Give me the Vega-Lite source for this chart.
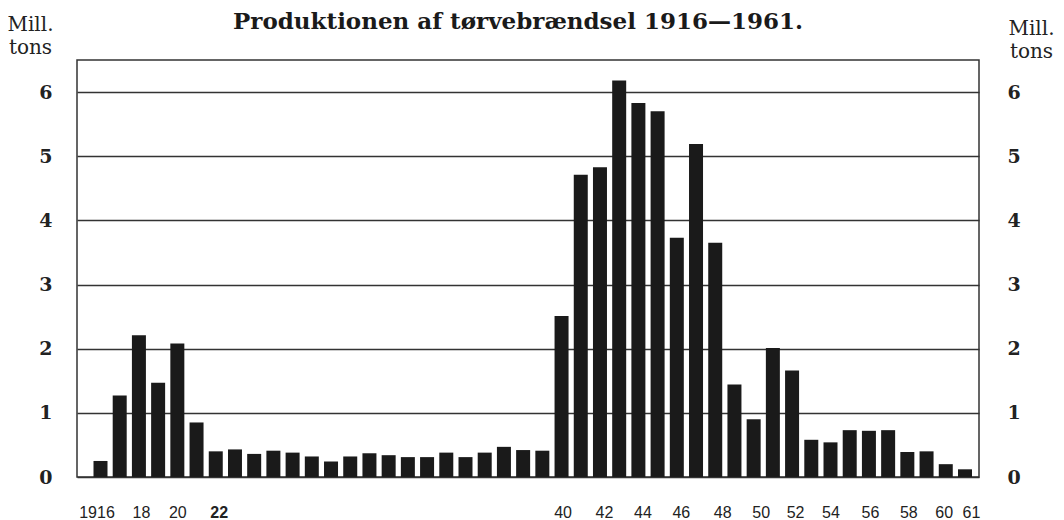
{
  "$schema": "https://vega.github.io/schema/vega-lite/v6.json",
  "width": 902,
  "height": 417,
  "autosize": {"type": "none"},
  "padding": {"left": 77, "top": 60, "right": 85, "bottom": 43},
  "background": "white",
  "title": {
    "text": "Produktionen af tørvebrændsel 1916—1961.",
    "font": "DejaVu Serif",
    "fontSize": 23,
    "fontWeight": "bold",
    "color": "#1a1a1a",
    "anchor": "middle",
    "baseline": "alphabetic",
    "dx": -10,
    "offset": 0,
    "dy": 38,
    "frame": "group"
  },
  "config": {
    "view": {"stroke": "#333333", "strokeWidth": 1.5},
    "axis": {"domain": false, "ticks": false}
  },
  "data": {
    "values": [
      {"year": 1916, "value": 0.25},
      {"year": 1917, "value": 1.27},
      {"year": 1918, "value": 2.21},
      {"year": 1919, "value": 1.47},
      {"year": 1920, "value": 2.08},
      {"year": 1921, "value": 0.85},
      {"year": 1922, "value": 0.40},
      {"year": 1923, "value": 0.43},
      {"year": 1924, "value": 0.36},
      {"year": 1925, "value": 0.41},
      {"year": 1926, "value": 0.38},
      {"year": 1927, "value": 0.32},
      {"year": 1928, "value": 0.24},
      {"year": 1929, "value": 0.32},
      {"year": 1930, "value": 0.37},
      {"year": 1931, "value": 0.34},
      {"year": 1932, "value": 0.31},
      {"year": 1933, "value": 0.31},
      {"year": 1934, "value": 0.38},
      {"year": 1935, "value": 0.31},
      {"year": 1936, "value": 0.38},
      {"year": 1937, "value": 0.47},
      {"year": 1938, "value": 0.42},
      {"year": 1939, "value": 0.41},
      {"year": 1940, "value": 2.51},
      {"year": 1941, "value": 4.71},
      {"year": 1942, "value": 4.83},
      {"year": 1943, "value": 6.18},
      {"year": 1944, "value": 5.83},
      {"year": 1945, "value": 5.70},
      {"year": 1946, "value": 3.73},
      {"year": 1947, "value": 5.19},
      {"year": 1948, "value": 3.65},
      {"year": 1949, "value": 1.44},
      {"year": 1950, "value": 0.90},
      {"year": 1951, "value": 2.01},
      {"year": 1952, "value": 1.66},
      {"year": 1953, "value": 0.58},
      {"year": 1954, "value": 0.54},
      {"year": 1955, "value": 0.73},
      {"year": 1956, "value": 0.72},
      {"year": 1957, "value": 0.73},
      {"year": 1958, "value": 0.39},
      {"year": 1959, "value": 0.40},
      {"year": 1960, "value": 0.20},
      {"year": 1961, "value": 0.12}
    ]
  },
  "encoding": {
    "x": {
      "field": "year",
      "type": "quantitative",
      "scale": {"domain": [1914.777, 1961.73], "nice": false, "zero": false, "padding": 0},
      "axis": {
        "title": null,
        "grid": false,
        "values": [1916, 1918, 1920, 1922, 1940, 1942, 1944, 1946, 1948, 1950, 1952, 1954, 1956, 1958, 1960, 1961],
        "format": "d",
        "labelExpr": "datum.value == 1916 ? '1916' : substring(datum.label, 2)",
        "labelFont": "Liberation Sans",
        "labelFontSize": 16,
        "labelColor": "#222222",
        "labelPadding": 27,
        "labelBaseline": "top",
        "labelOverlap": false,
        "labelFlush": false,
        "labelBound": false,
        "labelFontWeight": {"condition": {"test": "datum.value == 1922", "value": "bold"}, "value": "normal"},
        "labelOffset": {
          "condition": [
            {"test": "datum.value == 1916", "value": -4},
            {"test": "datum.value == 1918", "value": 2},
            {"test": "datum.value == 1920", "value": 0},
            {"test": "datum.value == 1922", "value": 3},
            {"test": "datum.value == 1940", "value": 1},
            {"test": "datum.value >= 1942 && datum.value <= 1946", "value": 4},
            {"test": "datum.value >= 1948 && datum.value <= 1950", "value": 7},
            {"test": "datum.value == 1952", "value": 3},
            {"test": "datum.value == 1954", "value": 0},
            {"test": "datum.value == 1960", "value": -2},
            {"test": "datum.value == 1961", "value": 6}
          ],
          "value": 1
        }
      }
    }
  },
  "layer": [
    {
      "mark": {"type": "bar", "size": 14, "color": "#1a1a1a"},
      "encoding": {
        "y": {
          "field": "value",
          "type": "quantitative",
          "scale": {"domain": [0, 6.5], "nice": false},
          "axis": {
            "orient": "left",
            "values": [0, 1, 2, 3, 4, 5, 6],
            "grid": true,
            "gridColor": "#333333",
            "gridWidth": 1.3,
            "gridOpacity": 1,
            "labelFont": "DejaVu Serif",
            "labelFontWeight": "bold",
            "labelFontSize": 19,
            "labelColor": "#222222",
            "labelPadding": 25,
            "title": ["Mill.", "tons"],
            "titleAngle": 0,
            "titleX": -47,
            "titleY": -46,
            "titleAlign": "center",
            "titleBaseline": "top",
            "titleFont": "DejaVu Serif",
            "titleFontWeight": "normal",
            "titleFontSize": 20,
            "titleLineHeight": 23,
            "titleColor": "#222222"
          }
        }
      }
    },
    {
      "mark": {"type": "bar", "size": 14, "opacity": 0},
      "encoding": {
        "y": {
          "field": "value",
          "type": "quantitative",
          "scale": {"domain": [0, 6.5], "nice": false},
          "axis": {
            "orient": "right",
            "values": [0, 1, 2, 3, 4, 5, 6],
            "grid": false,
            "labelFont": "DejaVu Serif",
            "labelFontWeight": "bold",
            "labelFontSize": 19,
            "labelColor": "#222222",
            "labelPadding": 28,
            "title": ["Mill.", "tons"],
            "titleAngle": 0,
            "titleX": 52,
            "titleY": -42,
            "titleAlign": "center",
            "titleBaseline": "top",
            "titleFont": "DejaVu Serif",
            "titleFontWeight": "normal",
            "titleFontSize": 20,
            "titleLineHeight": 23,
            "titleColor": "#222222"
          }
        }
      }
    }
  ],
  "resolve": {"scale": {"y": "independent"}, "axis": {"y": "independent"}}
}
